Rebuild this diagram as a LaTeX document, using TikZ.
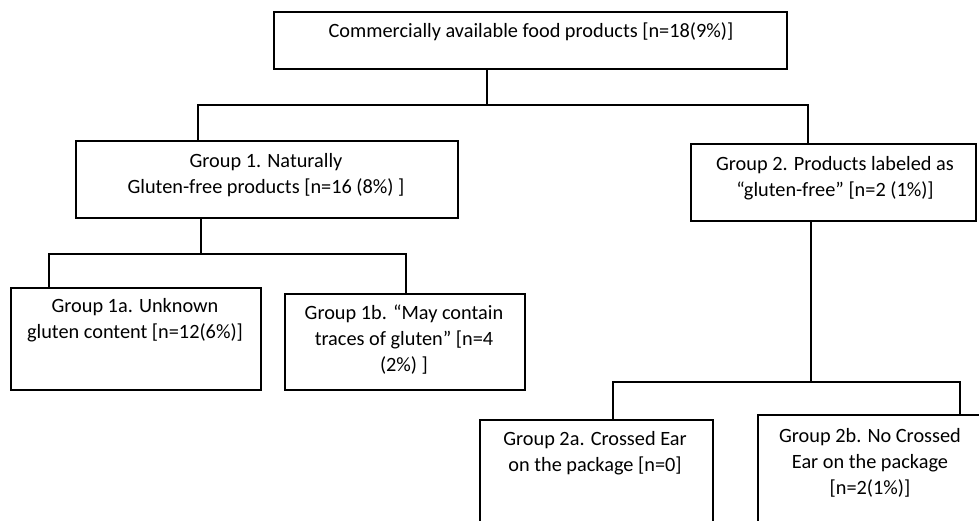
\documentclass[tikz,border=0pt]{standalone}
\usepackage{fontspec}
\setmainfont{Carlito}
\usetikzlibrary{calc}
\tikzset{
  grpBox/.style={draw=black, line width=2.2pt, inner sep=0pt, anchor=north west},
  grpText/.style={align=center, font=\fontsize{20.3}{26}\selectfont, inner sep=0pt},
  bus/.style={draw=black, line width=2.2pt}
}

\begin{document}
\begin{tikzpicture}[x=1pt, y=-1pt]
  \useasboundingbox (0,0) rectangle (979,521);
  \clip (0,0) rectangle (979,521);

  % boxes
  \node[grpBox, minimum width=513pt, minimum height=57pt] (top) at (273,11) {};
  \node[grpBox, minimum width=382pt, minimum height=77pt] (g1) at (75,140) {};
  \node[grpBox, minimum width=285pt, minimum height=77pt] (g2) at (690,143) {};
  \node[grpBox, minimum width=250pt, minimum height=102pt] (g1a) at (10,287) {};
  \node[grpBox, minimum width=240pt, minimum height=96pt] (g1b) at (284,293) {};
  \node[grpBox, minimum width=233pt, minimum height=130pt] (g2a) at (479,419) {};
  \node[grpBox, minimum width=228pt, minimum height=130pt] (g2b) at (757,414) {};

  % texts
  \node[grpText] (topT) at (531,32) {Commercially available food products [n=18(9\%)]};
  \node[grpText] (g1T) at (266,175) {Group 1. Naturally\\Gluten-free products [n=16 (8\%) ]};
  \node[grpText] (g2T) at (835,178) {Group 2. Products labeled as\\“gluten-free” [n=2 (1\%)]};
  \node[grpText] (g1aT) at (135,320) {Group 1a. Unknown\\gluten content [n=12(6\%)]};
  \node[grpText] (g1bT) at (404,340) {Group 1b. “May contain\\traces of gluten” [n=4\\(2\%) ]};
  \node[grpText] (g2aT) at (595,453) {Group 2a. Crossed Ear\\on the package [n=0]};
  \node[grpText] (g2bT) at (870,463) {Group 2b. No Crossed\\Ear on the package\\{}[n=2(1\%)]};

  % bus lines
  \coordinate (topBus) at (487,105);
  \coordinate (g1Drop) at (198,105);
  \coordinate (g2Drop) at (808,105);
  \draw[bus] (top.south -| topBus) -- (topBus);
  \draw[bus] (g1.north -| g1Drop) -- (g1Drop) -- (g2Drop) -- (g2.north -| g2Drop);

  \coordinate (g1Bus) at (201,254);
  \coordinate (g1aDrop) at (49,254);
  \coordinate (g1bDrop) at (406,254);
  \draw[bus] (g1.south -| g1Bus) -- (g1Bus);
  \draw[bus] (g1a.north -| g1aDrop) -- (g1aDrop) -- (g1bDrop) -- (g1b.north -| g1bDrop);

  \coordinate (g2Bus) at (811,382);
  \coordinate (g2aDrop) at (613,382);
  \coordinate (g2bDrop) at (960,382);
  \draw[bus] (g2.south -| g2Bus) -- (g2Bus);
  \draw[bus] (g2a.north -| g2aDrop) -- (g2aDrop) -- (g2bDrop) -- (g2b.north -| g2bDrop);
\end{tikzpicture}
\end{document}
